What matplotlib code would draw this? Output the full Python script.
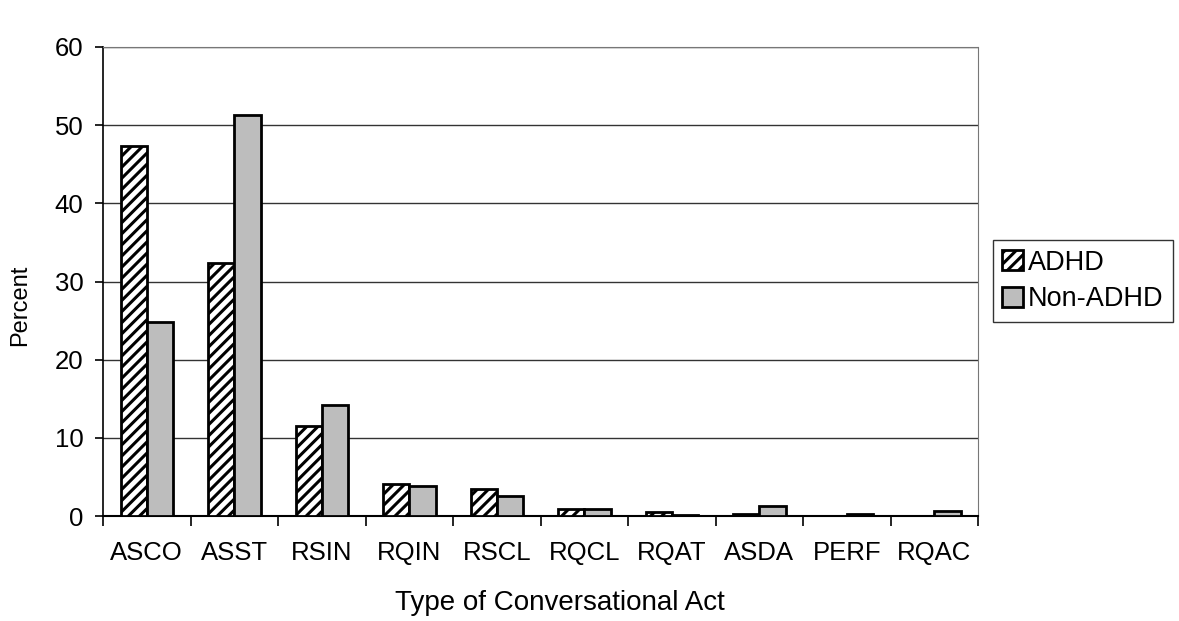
import matplotlib
matplotlib.use("Agg")
import matplotlib.pyplot as plt
import numpy as np

plt.rcParams['font.family'] = ['Liberation Sans', 'DejaVu Sans']
plt.rcParams['hatch.linewidth'] = 2.2

categories = ["ASCO", "ASST", "RSIN", "RQIN", "RSCL", "RQCL", "RQAT", "ASDA", "PERF", "RQAC"]
adhd = [47.3, 32.4, 11.5, 4.1, 3.4, 0.9, 0.5, 0.2, 0.0, 0.0]
non_adhd = [24.8, 51.3, 14.2, 3.9, 2.5, 0.9, 0.1, 1.3, 0.3, 0.6]
yticks = [0, 10, 20, 30, 40, 50, 60]

fig = plt.figure(figsize=(11.79, 6.21), dpi=100)
ax = fig.add_axes([103/1179, 1 - 516/621, (978-103)/1179, (516-47)/621])

x = np.arange(len(categories))
w = 0.3
ax.bar(x - w/2, adhd, w, facecolor='white', edgecolor='black', hatch='///', linewidth=2.0, label='ADHD', zorder=3)
ax.bar(x + w/2, non_adhd, w, facecolor='#bdbdbd', edgecolor='black', linewidth=2.0, label='Non-ADHD', zorder=3)

ax.set_xlim(-0.5, len(categories) - 0.5)
ax.set_ylim(0, 60)
ax.set_yticks(yticks)
ax.set_yticklabels([str(v) for v in yticks], fontsize=18.5)
ax.yaxis.grid(True, color='#333333', linewidth=1.0, zorder=0)
ax.set_xticks(x)
ax.set_xticklabels(categories, fontsize=18.5)
ax.tick_params(axis='x', length=0, pad=18)
ax.set_xticks(np.arange(-0.5, len(categories) + 0.5, 1), minor=True)
ax.tick_params(axis='x', which='minor', length=7, width=1.2, direction='out')
ax.tick_params(axis='y', length=6, width=1.2, direction='out', pad=8)

for side in ['top', 'right']:
    ax.spines[side].set_color('#777777')
    ax.spines[side].set_linestyle((0, (1, 1)))
ax.spines['left'].set_color('black')
ax.spines['left'].set_linewidth(1.2)
ax.spines['bottom'].set_color('black')
ax.spines['bottom'].set_linewidth(1.5)

ax.set_ylabel('Percent', fontsize=17)
ax.yaxis.label.set_verticalalignment('center')
ax.yaxis.label.set_horizontalalignment('center')
ax.yaxis.set_label_coords(20/1179, 1 - 305/621, transform=fig.transFigure)
ax.set_xlabel('Type of Conversational Act', fontsize=20)
ax.xaxis.label.set_verticalalignment('center')
ax.xaxis.set_label_coords(560/1179, 1 - 603/621, transform=fig.transFigure)

leg = ax.legend(loc='center left', bbox_to_anchor=(993/1179, 1 - 281/621), bbox_transform=fig.transFigure,
                fontsize=19.5, frameon=True, fancybox=False, edgecolor='black', handlelength=0.75,
                handleheight=0.75, handletextpad=0.2, borderpad=0.35, labelspacing=0.4, borderaxespad=0)
leg.get_frame().set_linewidth(1.0)

fig.savefig('out.png', dpi=100, facecolor='white')
